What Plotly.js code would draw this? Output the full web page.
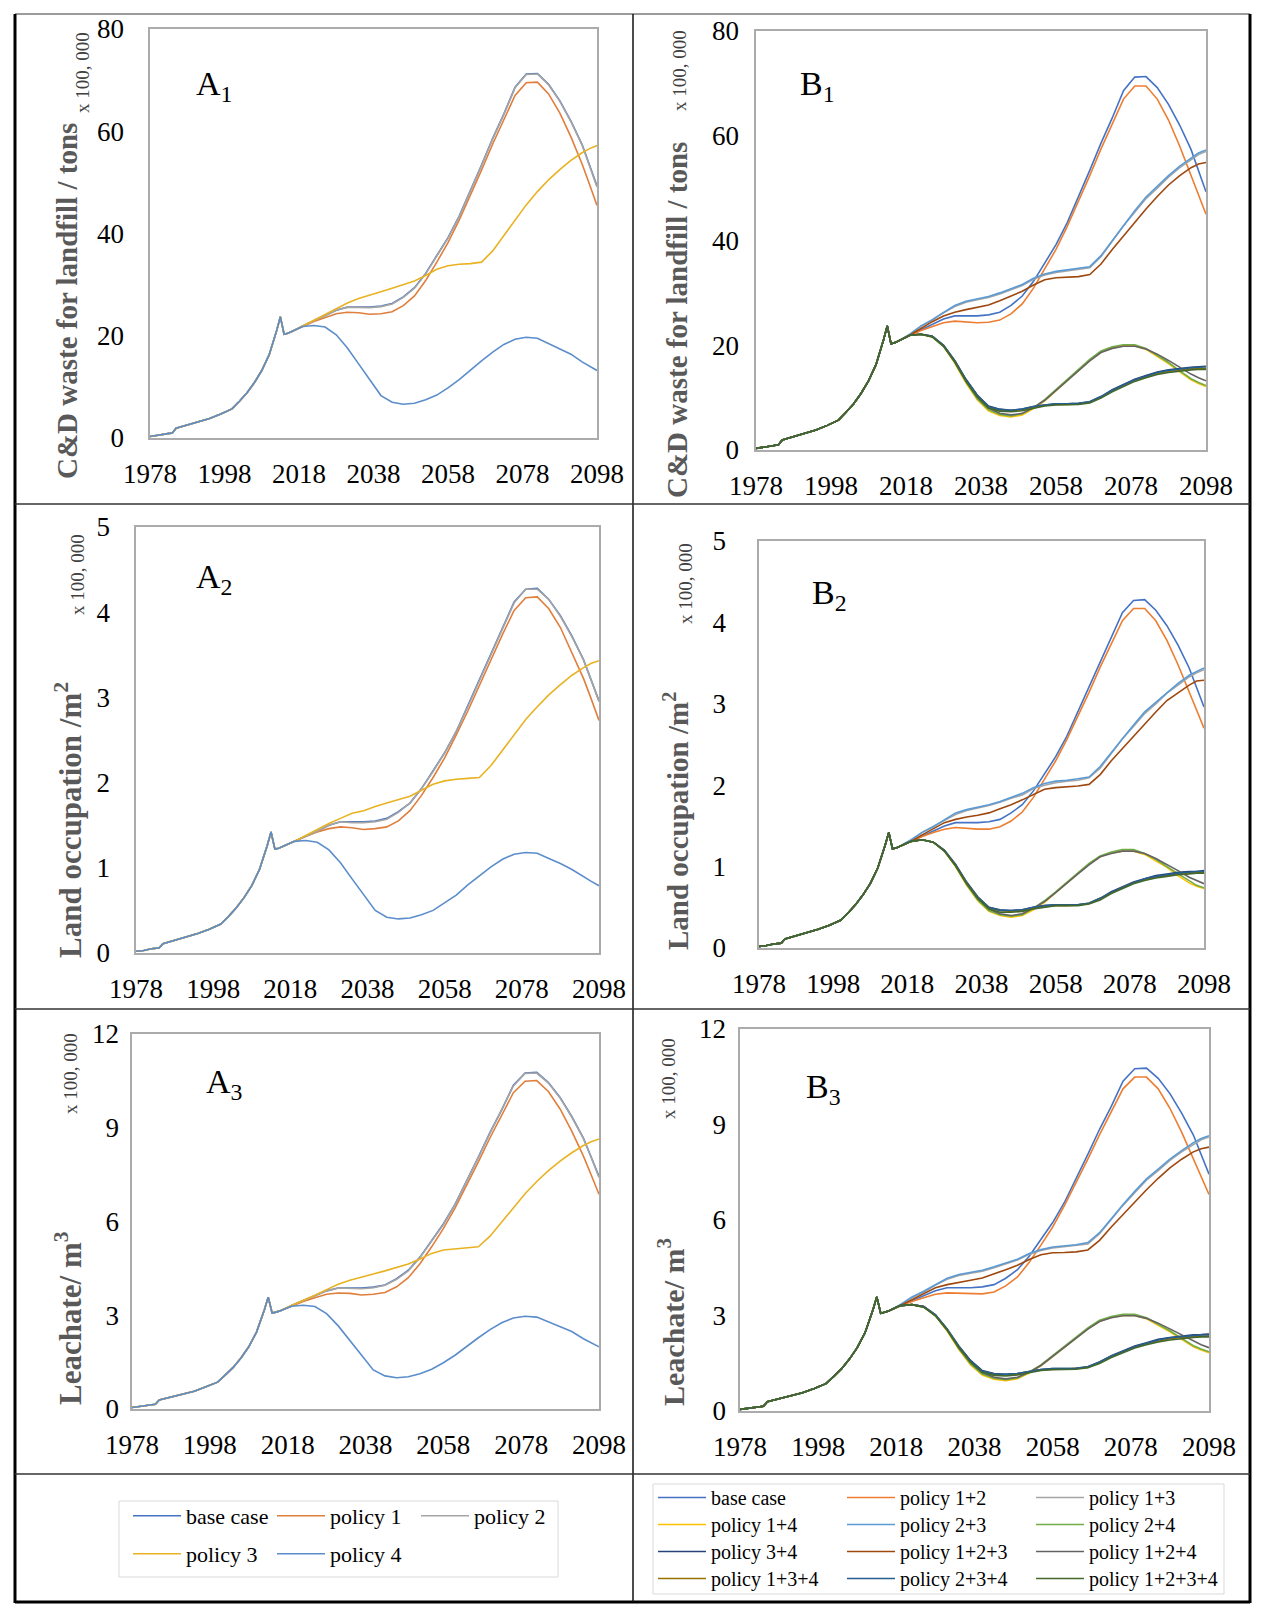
<!DOCTYPE html>
<html>
<head>
<meta charset="utf-8">
<script src="https://cdn.plot.ly/plotly-3.0.1.min.js"></script>
<style>
html,body{margin:0;padding:0;background:#ffffff;}
#chart{width:1267px;height:1616px;}
</style>
</head>
<body>
<div id="chart"></div>
<script>
// ---------------- DATA ----------------
const histYears = [1978,1980,1982,1984,1985,1988,1991,1994,1997,2000,2002,2004,2006,2008,2010,2011,2012,2013,2014,2015];
const projYears = [2016,2019,2022,2025,2028,2031,2034,2037,2040,2043,2046,2049,2052,2055,2058,2061,2064,2067,2070,2073,2076,2079,2082,2085,2088,2091,2094,2096,2098];
const xTickYears = [1978,1998,2018,2038,2058,2078,2098];
const wasteTicks = [0,20,40,60,80];
const landTicks = [0,1,2,3,4,5];
const leachTicks = [0,3,6,9,12];

// C&D waste for landfill (x 100,000 tons)
const wasteHist = [0.3,0.5,0.8,1.0,1.9,2.5,3.1,3.8,4.7,5.7,7.2,8.8,10.8,13.2,16.3,18.5,21.0,23.7,20.3,20.5];
const wasteBase = [20.8,21.9,22.9,23.9,25.0,25.6,25.6,25.6,25.8,26.3,27.6,29.4,32.2,35.6,39.2,43.4,48.3,53.4,58.6,63.4,68.6,71.2,71.3,69.2,66.0,62.0,57.4,53.4,49.3];
const wasteP1 = [20.8,21.8,22.8,23.6,24.3,24.6,24.5,24.2,24.3,24.7,25.9,27.8,30.8,34.4,38.2,42.6,47.4,52.4,57.5,62.4,67.0,69.5,69.6,67.3,63.6,58.9,53.6,49.6,45.5];
const wasteP2 = [20.8,21.9,22.9,23.9,25.0,25.6,25.5,25.5,25.7,26.2,27.5,29.3,32.1,35.5,39.1,43.3,48.2,53.3,58.5,63.3,68.5,71.1,71.2,69.1,65.9,61.9,57.3,53.3,49.1];
const wasteP3 = [20.8,21.9,23.0,24.1,25.3,26.4,27.3,27.9,28.6,29.3,30.0,30.7,31.8,33.0,33.7,34.0,34.1,34.4,36.6,39.6,42.6,45.6,48.2,50.5,52.5,54.3,55.8,56.6,57.2];
const wasteP4 = [20.8,21.8,22.0,21.7,20.2,17.6,14.5,11.3,8.3,7.0,6.6,6.8,7.5,8.4,9.8,11.4,13.3,15.1,16.8,18.3,19.3,19.7,19.5,18.5,17.5,16.4,14.9,14.0,13.2];
const wasteP12 = [20.8,21.8,22.8,23.6,24.3,24.6,24.5,24.3,24.4,24.8,26.0,27.9,30.9,34.5,38.3,42.7,47.4,52.4,57.5,62.4,67.0,69.5,69.5,67.0,63.0,58.0,52.5,48.6,45.0];
const wasteP13 = [20.8,22.0,23.6,24.8,26.2,27.4,28.2,28.7,29.1,29.8,30.6,31.4,32.6,33.4,33.9,34.2,34.4,34.8,36.9,39.8,42.8,45.4,48.0,50.0,52.1,53.9,55.5,56.4,57.0];
const wasteP14 = [20.8,21.9,22.1,21.6,19.8,16.6,12.8,9.6,7.5,6.6,6.3,6.7,7.9,9.4,11.3,13.3,15.2,17.1,18.7,19.5,19.9,19.9,19.2,17.9,16.5,14.9,13.4,12.7,12.1];
const wasteP23 = [20.8,22.1,23.7,24.9,26.3,27.6,28.4,28.9,29.3,30.0,30.8,31.6,32.8,33.6,34.1,34.4,34.6,35.0,37.1,40.0,43.0,45.7,48.3,50.3,52.4,54.2,55.8,56.7,57.3];
const wasteP24 = [20.8,21.9,22.1,21.6,19.9,16.8,13.0,9.8,7.7,6.8,6.5,6.9,8.1,9.6,11.5,13.5,15.4,17.3,18.9,19.7,20.1,20.1,19.4,18.1,16.7,15.1,13.6,12.9,12.3];
const wasteP34 = [20.8,21.9,22.1,21.7,20.0,17.1,13.5,10.5,8.4,7.8,7.6,7.8,8.3,8.6,8.8,8.8,8.9,9.2,10.2,11.5,12.5,13.5,14.2,14.9,15.3,15.6,15.8,15.9,16.0];
const wasteP123 = [20.8,21.9,23.2,24.5,25.6,26.3,26.8,27.2,27.7,28.5,29.4,30.3,31.5,32.5,32.9,33.0,33.1,33.5,35.5,38.3,40.9,43.5,46.0,48.4,50.6,52.4,53.9,54.6,54.9];
const wasteP124 = [20.8,21.9,22.1,21.7,20.0,17.0,13.3,10.1,8.0,7.0,6.7,7.0,8.1,9.5,11.4,13.3,15.2,17.0,18.6,19.4,19.8,19.8,19.3,18.3,17.1,15.8,14.5,13.8,13.2];
const wasteP134 = [20.8,21.9,22.1,21.7,19.9,16.9,13.3,10.3,8.2,7.6,7.5,7.7,8.2,8.5,8.7,8.7,8.8,9.1,10.1,11.3,12.3,13.3,14.0,14.6,15.0,15.3,15.5,15.6,15.6];
const wasteP234 = [20.8,21.9,22.1,21.7,20.0,17.0,13.4,10.4,8.3,7.7,7.6,7.8,8.3,8.6,8.8,8.8,8.9,9.2,10.2,11.4,12.4,13.4,14.1,14.8,15.2,15.5,15.7,15.8,15.9];
const wasteP1234 = [20.8,21.9,22.1,21.6,19.8,16.8,13.1,10.1,8.0,7.4,7.3,7.5,8.0,8.4,8.6,8.6,8.7,9.0,9.9,11.1,12.1,13.1,13.8,14.4,14.8,15.1,15.3,15.4,15.4];

// Land occupation (x 100,000 m2)
const landHist = [0.02,0.03,0.05,0.06,0.11,0.15,0.19,0.23,0.28,0.34,0.43,0.53,0.65,0.79,0.98,1.11,1.26,1.42,1.22,1.23];
const landBase = [1.25,1.31,1.37,1.43,1.50,1.54,1.54,1.54,1.55,1.58,1.66,1.76,1.93,2.14,2.35,2.60,2.90,3.20,3.52,3.80,4.12,4.27,4.28,4.15,3.96,3.72,3.44,3.20,2.96];
const landP1 = [1.25,1.31,1.37,1.42,1.46,1.48,1.47,1.45,1.46,1.48,1.55,1.67,1.85,2.06,2.29,2.56,2.84,3.14,3.45,3.74,4.02,4.17,4.18,4.04,3.82,3.53,3.22,2.98,2.73];
const landP2 = [1.25,1.31,1.37,1.43,1.50,1.54,1.53,1.53,1.54,1.57,1.65,1.76,1.93,2.13,2.35,2.60,2.89,3.20,3.51,3.80,4.11,4.27,4.27,4.15,3.95,3.71,3.44,3.20,2.95];
const landP3 = [1.25,1.31,1.38,1.45,1.52,1.58,1.64,1.67,1.72,1.76,1.80,1.84,1.91,1.98,2.02,2.04,2.05,2.06,2.20,2.38,2.56,2.74,2.89,3.03,3.15,3.26,3.35,3.40,3.43];
const landP4 = [1.25,1.31,1.32,1.30,1.21,1.06,0.87,0.68,0.50,0.42,0.40,0.41,0.45,0.50,0.59,0.68,0.80,0.91,1.01,1.10,1.16,1.18,1.17,1.11,1.05,0.98,0.89,0.84,0.79];
const landP12 = [1.25,1.31,1.37,1.42,1.46,1.48,1.47,1.46,1.46,1.49,1.56,1.67,1.85,2.07,2.30,2.56,2.84,3.14,3.45,3.74,4.02,4.17,4.17,4.02,3.78,3.48,3.15,2.92,2.70];
const landP13 = [1.25,1.32,1.42,1.49,1.57,1.64,1.69,1.72,1.75,1.79,1.84,1.88,1.96,2.00,2.03,2.05,2.06,2.09,2.21,2.39,2.57,2.72,2.88,3.00,3.13,3.23,3.33,3.38,3.42];
const landP14 = [1.25,1.31,1.33,1.30,1.19,1.00,0.77,0.58,0.45,0.40,0.38,0.40,0.47,0.56,0.68,0.80,0.91,1.03,1.12,1.17,1.19,1.19,1.15,1.07,0.99,0.89,0.80,0.76,0.73];
const landP23 = [1.25,1.33,1.42,1.49,1.58,1.66,1.70,1.73,1.76,1.80,1.85,1.90,1.97,2.02,2.05,2.06,2.08,2.10,2.23,2.40,2.58,2.74,2.90,3.02,3.14,3.25,3.35,3.40,3.44];
const landP24 = [1.25,1.31,1.33,1.30,1.19,1.01,0.78,0.59,0.46,0.41,0.39,0.41,0.49,0.58,0.69,0.81,0.92,1.04,1.13,1.18,1.21,1.21,1.16,1.09,1.00,0.91,0.82,0.77,0.74];
const landP34 = [1.25,1.31,1.33,1.30,1.20,1.03,0.81,0.63,0.50,0.47,0.46,0.47,0.50,0.52,0.53,0.53,0.53,0.55,0.61,0.69,0.75,0.81,0.85,0.89,0.91,0.93,0.94,0.94,0.95];
const landP123 = [1.25,1.31,1.39,1.47,1.54,1.58,1.61,1.63,1.66,1.71,1.76,1.82,1.89,1.95,1.97,1.98,1.99,2.01,2.13,2.30,2.45,2.61,2.76,2.90,3.04,3.14,3.23,3.28,3.29];
const landP124 = [1.25,1.31,1.33,1.30,1.20,1.02,0.80,0.61,0.48,0.42,0.40,0.42,0.49,0.57,0.68,0.80,0.91,1.02,1.12,1.16,1.19,1.19,1.16,1.10,1.03,0.95,0.87,0.83,0.79];
const landP134 = [1.25,1.31,1.33,1.30,1.19,1.01,0.80,0.62,0.49,0.46,0.45,0.46,0.49,0.51,0.52,0.52,0.53,0.55,0.61,0.68,0.74,0.80,0.84,0.87,0.89,0.91,0.92,0.93,0.93];
const landP234 = [1.25,1.31,1.33,1.30,1.20,1.02,0.80,0.62,0.50,0.46,0.46,0.47,0.50,0.52,0.53,0.53,0.53,0.55,0.61,0.68,0.74,0.80,0.85,0.88,0.90,0.92,0.93,0.94,0.94];
const landP1234 = [1.25,1.31,1.33,1.30,1.19,1.01,0.79,0.61,0.48,0.44,0.44,0.45,0.48,0.50,0.52,0.52,0.52,0.54,0.59,0.67,0.73,0.79,0.83,0.86,0.88,0.90,0.91,0.92,0.92];

// Leachate (x 100,000 m3)
const leachHist = [0.05,0.08,0.12,0.15,0.29,0.38,0.47,0.57,0.71,0.86,1.09,1.33,1.63,1.99,2.46,2.79,3.17,3.58,3.07,3.10];
const leachBase = [3.14,3.31,3.46,3.61,3.78,3.87,3.87,3.87,3.90,3.97,4.17,4.44,4.86,5.38,5.92,6.55,7.29,8.06,8.85,9.57,10.36,10.75,10.77,10.45,9.97,9.36,8.67,8.06,7.44];
const leachP1 = [3.14,3.29,3.44,3.56,3.67,3.71,3.70,3.65,3.67,3.73,3.91,4.20,4.65,5.19,5.77,6.43,7.16,7.91,8.68,9.42,10.12,10.49,10.51,10.16,9.60,8.89,8.09,7.49,6.87];
const leachP2 = [3.14,3.31,3.46,3.61,3.78,3.87,3.85,3.85,3.88,3.96,4.15,4.42,4.85,5.36,5.90,6.54,7.28,8.05,8.83,9.56,10.34,10.74,10.75,10.43,9.95,9.35,8.65,8.05,7.41];
const leachP3 = [3.14,3.31,3.47,3.64,3.82,3.99,4.12,4.21,4.32,4.42,4.53,4.64,4.80,4.98,5.09,5.13,5.15,5.19,5.53,5.98,6.43,6.89,7.28,7.63,7.93,8.20,8.43,8.55,8.64];
const leachP4 = [3.14,3.29,3.32,3.28,3.05,2.66,2.19,1.71,1.25,1.06,1.00,1.03,1.13,1.27,1.48,1.72,2.01,2.28,2.54,2.76,2.91,2.97,2.94,2.79,2.64,2.48,2.25,2.11,1.99];
const leachP12 = [3.14,3.29,3.44,3.56,3.67,3.71,3.70,3.67,3.68,3.74,3.93,4.21,4.67,5.21,5.78,6.45,7.16,7.91,8.68,9.42,10.12,10.49,10.49,10.12,9.51,8.76,7.93,7.34,6.80];
const leachP13 = [3.14,3.32,3.56,3.74,3.96,4.14,4.26,4.33,4.39,4.50,4.62,4.74,4.92,5.04,5.12,5.16,5.19,5.25,5.57,6.01,6.46,6.86,7.25,7.55,7.87,8.14,8.38,8.52,8.61];
const leachP14 = [3.14,3.31,3.34,3.26,2.99,2.51,1.93,1.45,1.13,1.00,0.95,1.01,1.19,1.42,1.71,2.01,2.30,2.58,2.82,2.94,3.00,3.00,2.90,2.70,2.49,2.25,2.02,1.92,1.83];
const leachP23 = [3.14,3.34,3.58,3.76,3.97,4.17,4.29,4.36,4.42,4.53,4.65,4.77,4.95,5.07,5.15,5.19,5.22,5.29,5.60,6.04,6.49,6.90,7.29,7.60,7.91,8.18,8.43,8.56,8.65];
const leachP24 = [3.14,3.31,3.34,3.26,3.00,2.54,1.96,1.48,1.16,1.03,0.98,1.04,1.22,1.45,1.74,2.04,2.33,2.61,2.85,2.97,3.04,3.04,2.93,2.73,2.52,2.28,2.05,1.95,1.86];
const leachP34 = [3.14,3.31,3.34,3.28,3.02,2.58,2.04,1.59,1.27,1.18,1.15,1.18,1.25,1.30,1.33,1.33,1.34,1.39,1.54,1.74,1.89,2.04,2.14,2.25,2.31,2.36,2.39,2.40,2.42];
const leachP123 = [3.14,3.31,3.50,3.70,3.87,3.97,4.05,4.11,4.18,4.30,4.44,4.58,4.76,4.91,4.97,4.98,5.00,5.06,5.36,5.78,6.18,6.57,6.95,7.31,7.64,7.91,8.14,8.24,8.29];
const leachP124 = [3.14,3.31,3.34,3.28,3.02,2.57,2.01,1.53,1.21,1.06,1.01,1.06,1.22,1.43,1.72,2.01,2.30,2.57,2.81,2.93,2.99,2.99,2.91,2.76,2.58,2.39,2.19,2.08,1.99];
const leachP134 = [3.14,3.31,3.34,3.28,3.00,2.55,2.01,1.56,1.24,1.15,1.13,1.16,1.24,1.28,1.31,1.31,1.33,1.37,1.53,1.71,1.86,2.01,2.11,2.20,2.27,2.31,2.34,2.36,2.36];
const leachP234 = [3.14,3.31,3.34,3.28,3.02,2.57,2.02,1.57,1.25,1.16,1.15,1.18,1.25,1.30,1.33,1.33,1.34,1.39,1.54,1.72,1.87,2.02,2.13,2.23,2.30,2.34,2.37,2.39,2.40];
const leachP1234 = [3.14,3.31,3.34,3.26,2.99,2.54,1.98,1.53,1.21,1.12,1.10,1.13,1.21,1.27,1.30,1.30,1.31,1.36,1.49,1.68,1.83,1.98,2.08,2.17,2.23,2.28,2.31,2.33,2.33];

const seriesNamesA = ['base case','policy 1','policy 2','policy 3','policy 4'];
const seriesNamesB = ['base case','policy 1+2','policy 1+3','policy 1+4','policy 2+3','policy 2+4','policy 3+4','policy 1+2+3','policy 1+2+4','policy 1+3+4','policy 2+3+4','policy 1+2+3+4'];

// -------------- TABLES BUILT FROM THE ARRAYS --------------
const DATA = {
  waste: {hist: wasteHist, A: [wasteBase, wasteP1, wasteP2, wasteP3, wasteP4],
          B: [wasteBase, wasteP12, wasteP13, wasteP14, wasteP23, wasteP24, wasteP34, wasteP123, wasteP124, wasteP134, wasteP234, wasteP1234]},
  land: {hist: landHist, A: [landBase, landP1, landP2, landP3, landP4],
          B: [landBase, landP12, landP13, landP14, landP23, landP24, landP34, landP123, landP124, landP134, landP234, landP1234]},
  leach: {hist: leachHist, A: [leachBase, leachP1, leachP2, leachP3, leachP4],
          B: [leachBase, leachP12, leachP13, leachP14, leachP23, leachP24, leachP34, leachP123, leachP124, leachP134, leachP234, leachP1234]}
};
const colorsA = ['#4472C4','#E07E3C','#A5A5A5','#E8B222','#5B8DCB'];
const colorsB = ['#4472C4','#ED7D31','#A5A5A5','#FFC000','#5B9BD5','#70AD47','#264478','#9E480E','#636363','#997300','#255E91','#43682B'];

// -------------- LAYOUT HELPERS --------------
const W = 1267, H = 1616;
const fx = p => p / W;
const fy = p => 1 - p / H;
const SERIF = 'Liberation Serif, Times New Roman, serif';

const panels = [
  {metric:'waste', group:'A', box:[150,597,29,438], ticks:wasteTicks, max:80, legend:true, ylen:19},
  {metric:'waste', group:'B', box:[756,1206,31,450], ticks:wasteTicks, max:80, legend:true, ylen:10},
  {metric:'land',  group:'A', box:[136,599,527,953], ticks:landTicks, max:5, legend:false, ylen:19},
  {metric:'land',  group:'B', box:[759,1204,541,948], ticks:landTicks, max:5, legend:false, ylen:26},
  {metric:'leach', group:'A', box:[132,599,1034,1409], ticks:leachTicks, max:12, legend:false, ylen:6},
  {metric:'leach', group:'B', box:[740,1209,1029,1411], ticks:leachTicks, max:12, legend:false, ylen:7}
];

const traces = [];
const layout = {
  width: W, height: H,
  margin: {l:0, r:0, t:0, b:0},
  paper_bgcolor: '#ffffff', plot_bgcolor: '#ffffff',
  showlegend: true,
  font: {family: SERIF, color: '#000'},
  shapes: [], annotations: []
};

panels.forEach((p, i) => {
  const sfx = i === 0 ? '' : String(i + 1);
  const names = p.group === 'A' ? seriesNamesA : seriesNamesB;
  const colors = p.group === 'A' ? colorsA : colorsB;
  const d = DATA[p.metric];
  names.forEach((nm, j) => {
    const t = {
      type: 'scatter', mode: 'lines', name: nm,
      x: histYears.concat(projYears),
      y: d.hist.concat(d[p.group][j]),
      xaxis: 'x' + sfx, yaxis: 'y' + sfx,
      line: {color: colors[j], width: 1.6},
      hoverinfo: 'skip', showlegend: p.legend
    };
    if (p.legend) {
      t.legend = p.group === 'A' ? (j < 3 ? 'legend' : 'legend2') : 'legend' + (3 + Math.floor(j / 3));
    }
    traces.push(t);
  });
  const common = {showline: true, mirror: true, linecolor: '#ababab', linewidth: 1.6,
    showgrid: false, zeroline: false, ticks: 'outside', tickcolor: 'rgba(0,0,0,0)',
    tickfont: {family: SERIF, size: 27, color: '#000'}, fixedrange: true};
  layout['xaxis' + sfx] = Object.assign({}, common, {
    domain: [fx(p.box[0]), fx(p.box[1])], anchor: 'y' + sfx,
    range: [1978, 2098], tickmode: 'array', tickvals: xTickYears,
    ticktext: xTickYears.map(String), ticklen: 11
  });
  layout['yaxis' + sfx] = Object.assign({}, common, {
    domain: [fy(p.box[3]), fy(p.box[2])], anchor: 'x' + sfx,
    range: [0, p.max], tickmode: 'array', tickvals: p.ticks,
    ticktext: p.ticks.map(String), ticklen: p.ylen
  });
});

// legends (one per row so that the columns line up as in the figure)
const legA = {orientation: 'h', xanchor: 'left', yanchor: 'top', bgcolor: 'rgba(0,0,0,0)',
  borderwidth: 0, itemwidth: 48, entrywidthmode: 'pixels', entrywidth: 81,
  font: {family: SERIF, size: 22, color: '#000'}, itemclick: false, itemdoubleclick: false};
const legB = Object.assign({}, legA, {entrywidth: 126, font: {family: SERIF, size: 20, color: '#000'}});
layout.legend  = Object.assign({}, legA, {x: fx(128), y: fy(1495)});
layout.legend2 = Object.assign({}, legA, {x: fx(128), y: fy(1533)});
[1478, 1505, 1532, 1559].forEach((top, k) => {
  layout['legend' + (3 + k)] = Object.assign({}, legB, {x: fx(653), y: fy(top)});
});

// frame lines of the composite figure
function seg(x0, y0, x1, y1, color, width) {
  return {type: 'line', xref: 'paper', yref: 'paper', x0: fx(x0), y0: fy(y0), x1: fx(x1), y1: fy(y1),
    line: {color: color, width: width}, layer: 'above'};
}
function box(x0, y0, x1, y1, color, width) {
  return {type: 'rect', xref: 'paper', yref: 'paper', x0: fx(x0), y0: fy(y0), x1: fx(x1), y1: fy(y1),
    line: {color: color, width: width}, fillcolor: 'rgba(0,0,0,0)', layer: 'below'};
}
layout.shapes.push(
  seg(15, 14, 1250, 14, '#7a7a7a', 1.5),
  seg(15, 14, 15, 1603, '#000', 3),
  seg(1250, 14, 1250, 1603, '#000', 3),
  seg(15, 1602, 1250, 1602, '#000', 3),
  seg(633, 14, 633, 1602, '#111', 1.5),
  seg(15, 504, 1250, 504, '#333', 1.5),
  seg(15, 1009, 1250, 1009, '#333', 1.5),
  seg(15, 1474, 1250, 1474, '#333', 1.5),
  box(119, 1501, 558, 1577, '#d9d9d9', 1),
  box(653, 1484, 1224, 1594, '#d9d9d9', 1)
);

// axis titles, unit notes and panel letters
const titles = [
  {t: 'C&amp;D waste for landfill / tons', x: 67, y: 301, s: 29},
  {t: 'C&amp;D waste for landfill / tons', x: 677, y: 320, s: 29},
  {t: 'Land occupation /m<sup>2</sup>', x: 68, y: 820, s: 31},
  {t: 'Land occupation /m<sup>2</sup>', x: 676, y: 821, s: 29},
  {t: 'Leachate/ m<sup>3</sup>', x: 68, y: 1318, s: 31},
  {t: 'Leachate/ m<sup>3</sup>', x: 671, y: 1322, s: 30}
];
titles.forEach(o => layout.annotations.push({
  text: o.t, xref: 'paper', yref: 'paper', x: fx(o.x), y: fy(o.y),
  xanchor: 'center', yanchor: 'middle', textangle: -90, showarrow: false,
  font: {family: SERIF, size: o.s, color: '#595959', weight: 'bold'}
}));
const units = [[82, 72], [680, 71], [78, 575], [686, 583], [70, 1074], [668, 1079]];
units.forEach(u => layout.annotations.push({
  text: 'x 100, 000', xref: 'paper', yref: 'paper', x: fx(u[0]), y: fy(u[1]),
  xanchor: 'center', yanchor: 'middle', textangle: -90, showarrow: false,
  font: {family: SERIF, size: 19, color: '#404040'}
}));
const letters = [['A', '1', 194, 86], ['B', '1', 798, 86], ['A', '2', 194, 579], ['B', '2', 810, 595], ['A', '3', 204, 1084], ['B', '3', 804, 1089]];
letters.forEach(l => layout.annotations.push({
  text: l[0] + '<sub>' + l[1] + '</sub>', xref: 'paper', yref: 'paper', x: fx(l[2]), y: fy(l[3]),
  xanchor: 'left', yanchor: 'middle', showarrow: false,
  font: {family: SERIF, size: 34, color: '#000'}
}));

Plotly.newPlot('chart', traces, layout, {displayModeBar: false, staticPlot: true});
</script>
</body>
</html>
